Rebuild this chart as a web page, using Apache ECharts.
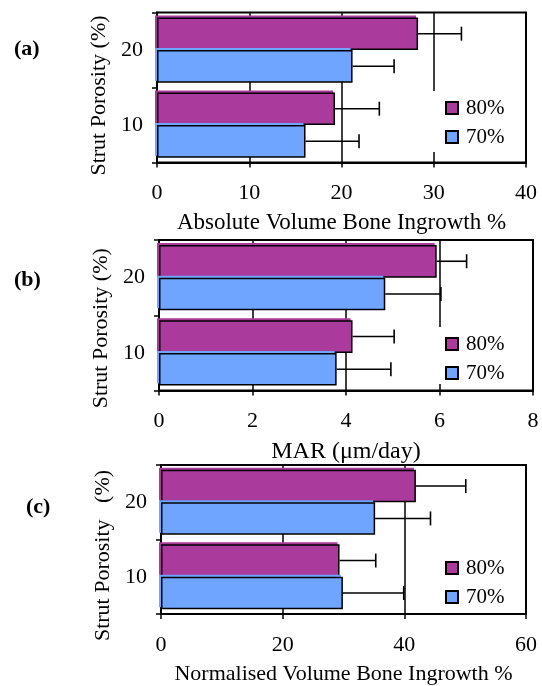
<!DOCTYPE html>
<html>
<head>
<meta charset="utf-8">
<script src="https://cdn.jsdelivr.net/npm/echarts@6/dist/echarts.min.js"></script>
<style>
  html, body { margin: 0; padding: 0; background: #fff; }
  #chart { width: 542px; height: 686px; }
</style>
</head>
<body>
<div id="chart"></div>
<script>
// ---- data ----
const categories = ['10', '20'];
const legendNames = ['80%', '70%'];

const absVol80 = [19.3, 28.3];
const absVol80Err = [4.8, 4.7];
const absVol70 = [16.1, 21.2];
const absVol70Err = [5.8, 4.5];

const mar80 = [4.14, 5.94];
const mar80Err = [0.89, 0.64];
const mar70 = [3.80, 4.84];
const mar70Err = [1.16, 1.19];

const norm80 = [29.35, 41.9];
const norm80Err = [5.95, 8.2];
const norm70 = [29.9, 35.2];
const norm70Err = [10.0, 9.1];

const ticksA = [0, 10, 20, 30, 40];
const ticksB = [0, 2, 4, 6, 8];
const ticksC = [0, 20, 40, 60];

const panelLabels = ['(a)', '(b)', '(c)'];
const xNames = ['Absolute Volume Bone Ingrowth %', 'MAR (\u03bcm/day)', 'Normalised Volume Bone Ingrowth %'];
const yNames = ['Strut Porosity (%)', 'Strut Porosity (%)', 'Strut Porosity   (%)'];

// ---- styling / layout ----
const FONT = "'Liberation Serif', 'Times New Roman', serif";
const C80 = '#AA3A9C';
const C70 = '#70A5FF';
const GAP = 0.13;

const panels = [
  { grid: { left: 157, top: 12.5, width: 369, height: 150 }, ticks: ticksA,
    d80: absVol80, e80: absVol80Err, d70: absVol70, e70: absVol70Err,
    title: { left: 14, top: 38 }, legendTop: 91, legendPadB: 4, yNameShift: 8, yNameGap: 47,
    xNameSize: 23 },
  { grid: { left: 159, top: 240, width: 374, height: 150.5 }, ticks: ticksB,
    d80: mar80, e80: mar80Err, d70: mar70, e70: mar70Err,
    title: { left: 14, top: 269 }, legendTop: 327, legendPadB: 0, yNameShift: 13, yNameGap: 47,
    xNameSize: 24 },
  { grid: { left: 161, top: 465, width: 365, height: 154 }, ticks: ticksC,
    d80: norm80, e80: norm80Err, d70: norm70, e70: norm70Err,
    title: { left: 26, top: 496 }, legendTop: 551, legendPadB: 4, yNameShift: 16, yNameGap: 45,
    xNameSize: 22 }
];

function errRender(order) {
  return function (params, api) {
    const cat = api.value(0), mean = api.value(1), err = api.value(2);
    const c = api.coord([mean, cat]);
    const e = api.coord([mean + err, cat]);
    const band = api.size([0, 1])[1];
    const bw = band * (1 - GAP) / 2;
    const y = c[1] - bw + order * bw + bw / 2;
    const st = { stroke: '#000', lineWidth: 1.6 };
    return {
      type: 'group',
      children: [
        { type: 'line', shape: { x1: c[0], y1: y, x2: e[0], y2: y }, style: st },
        { type: 'line', shape: { x1: e[0], y1: y - 7, x2: e[0], y2: y + 7 }, style: st }
      ]
    };
  };
}

const option = {
  backgroundColor: '#fff',
  animation: false,
  title: [], legend: [], grid: [], xAxis: [], yAxis: [], series: []
};

panels.forEach((p, i) => {
  option.title.push({
    text: panelLabels[i], left: p.title.left, top: p.title.top, padding: 0,
    textStyle: { fontFamily: FONT, fontSize: 22, fontWeight: 'bold', color: '#000' }
  });
  option.grid.push(Object.assign({ show: true, borderColor: '#000', borderWidth: 2, backgroundColor: 'transparent' }, p.grid));
  option.xAxis.push({
    type: 'value', gridIndex: i,
    min: p.ticks[0], max: p.ticks[p.ticks.length - 1], interval: p.ticks[1] - p.ticks[0],
    name: xNames[i], nameLocation: 'middle', nameGap: 49,
    nameTextStyle: { fontFamily: FONT, fontSize: p.xNameSize, color: '#000' },
    axisLine: { show: true, lineStyle: { color: '#000', width: 2 } },
    axisTick: { show: true, length: 5, lineStyle: { color: '#000', width: 1.5 } },
    axisLabel: { fontFamily: FONT, fontSize: 22, color: '#000', margin: 20 },
    splitLine: { show: true, lineStyle: { color: '#000', width: 1.5 } }
  });
  option.yAxis.push({
    type: 'category', gridIndex: i, data: categories,
    name: yNames[i], nameLocation: 'middle', nameRotate: 90, nameGap: p.yNameGap,
    nameTextStyle: { fontFamily: FONT, fontSize: 22, color: '#000', padding: [0, 2 * p.yNameShift, 0, 0] },
    axisLine: { show: true, lineStyle: { color: '#000', width: 2 } },
    axisTick: { show: true, length: 5, lineStyle: { color: '#000', width: 1.5 } },
    axisLabel: { fontFamily: FONT, fontSize: 22, color: '#000', margin: 14, padding: [6, 0, 0, 0] },
    splitLine: { show: false }
  });
  option.legend.push({
    data: legendNames, orient: 'vertical', left: 425, top: p.legendTop,
    padding: [6, 10, p.legendPadB, 20], itemGap: 7, itemWidth: 12, itemHeight: 12,
    backgroundColor: '#fff', icon: 'rect', selectedMode: false,
    textStyle: { fontFamily: FONT, fontSize: 21, color: '#000', lineHeight: 22, padding: [0, 0, 0, 3] }
  });
  const mk = (name, data, color) => ({
    type: 'bar', name: name, xAxisIndex: i, yAxisIndex: i, data: data,
    barGap: '0%', barCategoryGap: (GAP * 100) + '%',
    itemStyle: { color: color, borderColor: '#000', borderWidth: 1.5,
      shadowColor: color, shadowOffsetX: -2, shadowOffsetY: -2, shadowBlur: 0 }
  });
  option.series.push(mk('80%', p.d80, C80));
  option.series.push(mk('70%', p.d70, C70));
  option.series.push({
    type: 'custom', xAxisIndex: i, yAxisIndex: i, z: 5,
    renderItem: errRender(0), encode: { x: 1, y: 0 },
    data: p.d80.map((v, k) => [k, v, p.e80[k]])
  });
  option.series.push({
    type: 'custom', xAxisIndex: i, yAxisIndex: i, z: 5,
    renderItem: errRender(1), encode: { x: 1, y: 0 },
    data: p.d70.map((v, k) => [k, v, p.e70[k]])
  });
});

const chart = echarts.init(document.getElementById('chart'), null, { renderer: 'canvas' });
chart.setOption(option);
</script>
</body>
</html>
